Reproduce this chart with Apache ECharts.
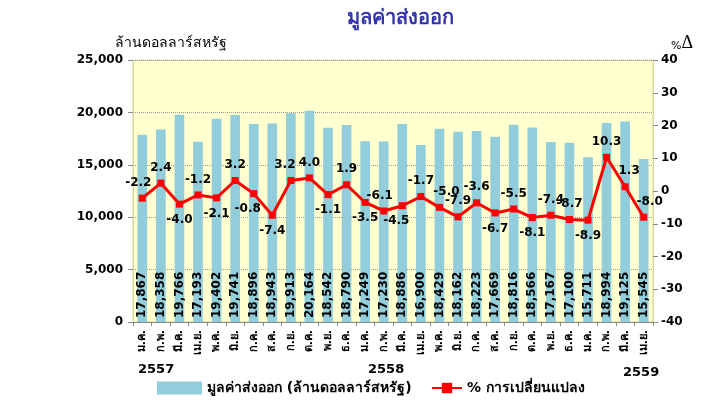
<!DOCTYPE html>
<html><head><meta charset="utf-8">
<script src="https://cdn.jsdelivr.net/npm/echarts@6/dist/echarts.min.js"></script>
<style>html,body{margin:0;padding:0;background:#fff}#c{width:709px;height:405px}</style>
</head><body><div id="c"></div>
<script>
var months = ['ม.ค.','ก.พ.','มี.ค.','เม.ย.','พ.ค.','มิ.ย.','ก.ค.','ส.ค.','ก.ย.','ต.ค.','พ.ย.','ธ.ค.',
              'ม.ค.','ก.พ.','มี.ค.','เม.ย.','พ.ค.','มิ.ย.','ก.ค.','ส.ค.','ก.ย.','ต.ค.','พ.ย.','ธ.ค.',
              'ม.ค.','ก.พ.','มี.ค.','เม.ย.'];
var exportValue = [17867,18358,19766,17193,19402,19741,18896,18943,19913,20164,18542,18790,
                   17249,17230,18886,16900,18429,18162,18223,17669,18816,18566,17167,17100,
                   15711,18994,19125,15545];
var pctChange = [-2.2,2.4,-4.0,-1.2,-2.1,3.2,-0.8,-7.4,3.2,4.0,-1.1,1.9,
                 -3.5,-6.1,-4.5,-1.7,-5.0,-7.9,-3.6,-6.7,-5.5,-8.1,-7.4,-8.7,
                 -8.9,10.3,1.3,-8.0];
var labelPos = ['top','top','bottom','top','bottom','top','bottom','bottom','top','top','bottom','top',
                'bottom','top','bottom','top','top','top','top','bottom','top','bottom','top','top',
                'bottom','top','top','top'];
var yearLabels = ['2557','2558','2559'];

var FONT = 'Tahoma, "DejaVu Sans", "Noto Sans", sans-serif';
var chart = echarts.init(document.getElementById('c'), null, {renderer:'canvas'});
var offsets = {0:[-4,0],6:[-6,0],8:[-6,0],13:[-4,0],14:[-6,0],16:[7,0],26:[4,0],27:[6,0]};
var lineData = pctChange.map(function(v,i){
  return {value:v, label:{position:labelPos[i], offset:offsets[i]||[0,0]}};
});
var lgText = {fontSize:14, fontWeight:'bold', color:'#000', fontFamily:FONT};
chart.setOption({
  animation:false,
  textStyle:{fontFamily:FONT},
  title:{text:'มูลค่าส่งออก', left:395, top:4, textAlign:'center',
    textStyle:{fontSize:20, fontWeight:'bold', color:'#3333AA', fontFamily:FONT}},
  grid:{left:133, right:56, top:60, bottom:83, show:true, backgroundColor:'#FFFFCF', borderColor:'#D8D8A0', borderWidth:1},
  legend:[
    {bottom:5, left:152, itemWidth:45, itemHeight:13, textStyle:lgText,
     data:[{name:'มูลค่าส่งออก (ล้านดอลลาร์สหรัฐ)', icon:'rect'}]},
    {bottom:5, left:426, itemWidth:30, itemHeight:13, textStyle:lgText,
     data:[{name:'% การเปลี่ยนแปลง'}]}
  ],
  xAxis:{type:'category', data:months, boundaryGap:true,
    axisLine:{lineStyle:{color:'#888'}},
    axisTick:{show:true, interval:0, length:4, lineStyle:{color:'#888'}},
    axisLabel:{interval:0, rotate:90, fontSize:11, fontWeight:'bold', color:'#000', margin:8}},
  yAxis:[
    {type:'value', min:0, max:25000, interval:5000, name:'ล้านดอลลาร์สหรัฐ', nameLocation:'end',
     nameGap:10, nameTextStyle:{fontSize:14, color:'#000', align:'left', padding:[0,0,0,-18]},
     axisLine:{show:true, lineStyle:{color:'#D8D8A0'}},
     axisTick:{show:true, length:5, lineStyle:{color:'#888'}},
     axisLabel:{fontSize:12, fontWeight:'bold', color:'#000', margin:10,
       formatter:function(v){return v.toLocaleString('en-US');}},
     splitLine:{show:true, lineStyle:{color:'#999', type:'dotted'}}},
    {type:'value', min:-40, max:40, interval:10,
     axisLine:{show:true, lineStyle:{color:'#D8D8A0'}},
     axisTick:{show:true, length:5, lineStyle:{color:'#888'}},
     axisLabel:{fontSize:12, fontWeight:'bold', color:'#000', margin:8},
     splitLine:{show:false}}
  ],
  graphic:[
    {type:'text', left:138, top:363, style:{text:yearLabels[0], font:'bold 13px '+FONT, fill:'#000'}},
    {type:'text', left:368, top:363, style:{text:yearLabels[1], font:'bold 13px '+FONT, fill:'#000'}},
    {type:'text', left:623, top:366, style:{text:yearLabels[2], font:'bold 13px '+FONT, fill:'#000'}},
    {type:'text', left:671, top:34, style:{text:'{p|%}{d|Δ}', rich:{
      p:{font:'11px '+FONT, fill:'#000', verticalAlign:'bottom'},
      d:{font:'18px "Liberation Serif", "DejaVu Serif", serif', fill:'#000'}}}}
  ],
  series:[
    {name:'มูลค่าส่งออก (ล้านดอลลาร์สหรัฐ)', type:'bar', data:exportValue, yAxisIndex:0,
     barWidth:'52%', itemStyle:{color:'#92CDDC'},
     label:{show:true, position:'insideBottom', rotate:90, align:'left', verticalAlign:'middle', distance:4,
       fontSize:12, fontWeight:'bold', color:'#000',
       formatter:function(p){return p.value.toLocaleString('en-US');}}},
    {name:'% การเปลี่ยนแปลง', type:'line', data:lineData, yAxisIndex:1,
     symbol:'rect', symbolSize:7, lineStyle:{color:'#FF0000', width:3}, itemStyle:{color:'#FF0000'},
     label:{show:true, fontSize:12, fontWeight:'bold', color:'#000', distance:6,
       formatter:function(p){return p.value.toFixed(1);}}}
  ]
});
</script></body></html>
